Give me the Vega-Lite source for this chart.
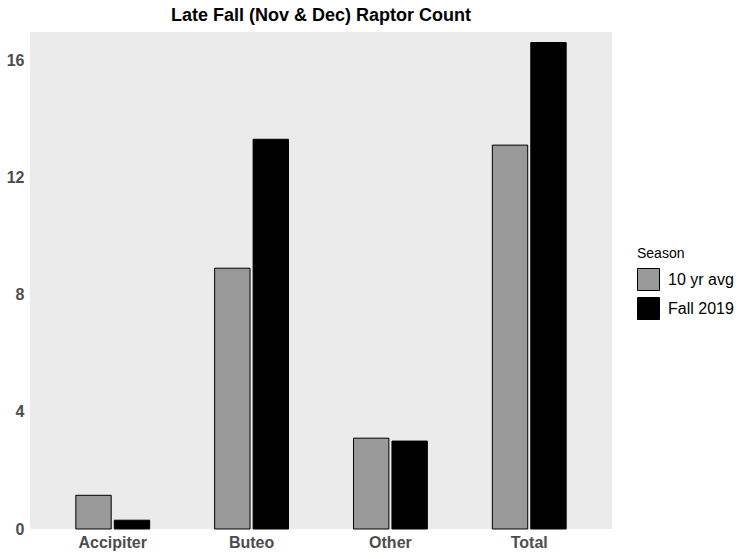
{
  "$schema": "https://vega.github.io/schema/vega-lite/v6.json",
  "width": 582,
  "height": 497,
  "autosize": {"type": "none"},
  "padding": {"left": 30, "top": 32, "right": 138, "bottom": 30},
  "background": "white",
  "title": {
    "text": "Late Fall (Nov & Dec) Raptor Count",
    "font": "Liberation Sans",
    "fontSize": 18,
    "fontWeight": "bold",
    "color": "black",
    "anchor": "middle",
    "frame": "group",
    "baseline": "bottom",
    "offset": 8,
    "dy": 19
  },
  "data": {
    "values": [
      {"group": "Accipiter", "Season": "10 yr avg", "count": 1.15},
      {"group": "Accipiter", "Season": "Fall 2019", "count": 0.3},
      {"group": "Buteo", "Season": "10 yr avg", "count": 8.9},
      {"group": "Buteo", "Season": "Fall 2019", "count": 13.3},
      {"group": "Other", "Season": "10 yr avg", "count": 3.1},
      {"group": "Other", "Season": "Fall 2019", "count": 3.0},
      {"group": "Total", "Season": "10 yr avg", "count": 13.1},
      {"group": "Total", "Season": "Fall 2019", "count": 16.6}
    ]
  },
  "mark": {"type": "bar", "stroke": "black", "strokeWidth": 1},
  "encoding": {
    "x": {
      "field": "group",
      "type": "nominal",
      "sort": ["Accipiter", "Buteo", "Other", "Total"],
      "scale": {"paddingInner": 0.468, "paddingOuter": 0.33},
      "axis": {
        "title": null,
        "labelAngle": 0,
        "ticks": false,
        "domain": false,
        "labelFont": "Liberation Sans",
        "labelFontSize": 16,
        "labelFontWeight": "bold",
        "labelColor": "#4D4D4D",
        "labelPadding": 5
      }
    },
    "xOffset": {
      "field": "Season",
      "type": "nominal",
      "sort": ["10 yr avg", "Fall 2019"],
      "scale": {"paddingInner": 0.08, "paddingOuter": 0}
    },
    "y": {
      "field": "count",
      "type": "quantitative",
      "scale": {"domain": [0, 16.96], "nice": false, "zero": true},
      "axis": {
        "title": null,
        "values": [0, 4, 8, 12, 16],
        "grid": false,
        "ticks": false,
        "domain": false,
        "labelFont": "Liberation Sans",
        "labelFontSize": 16,
        "labelFontWeight": "bold",
        "labelColor": "#4D4D4D",
        "labelPadding": 6
      }
    },
    "fill": {
      "field": "Season",
      "type": "nominal",
      "sort": ["10 yr avg", "Fall 2019"],
      "scale": {"domain": ["10 yr avg", "Fall 2019"], "range": ["#999999", "#000000"]},
      "legend": {
        "orient": "none",
        "legendX": 607,
        "legendY": 215,
        "title": "Season",
        "titleFont": "Liberation Sans",
        "titleFontSize": 14,
        "titleFontWeight": "normal",
        "titleColor": "black",
        "titlePadding": 7,
        "labelFont": "Liberation Sans",
        "labelFontSize": 16,
        "labelColor": "black",
        "labelOffset": 8,
        "symbolType": "square",
        "symbolSize": 484,
        "symbolStrokeColor": "black",
        "symbolStrokeWidth": 1,
        "symbolOpacity": 1,
        "rowPadding": 2
      }
    }
  },
  "config": {
    "view": {"fill": "#EBEBEB", "stroke": null}
  }
}
